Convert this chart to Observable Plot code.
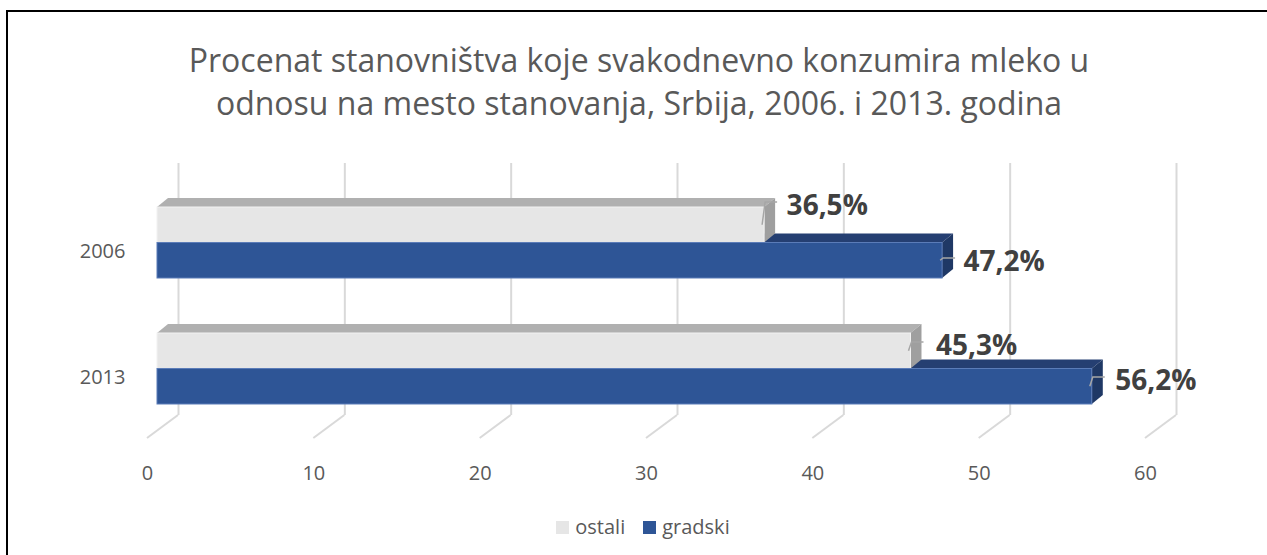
<!DOCTYPE html>
<html><head><meta charset="utf-8">
<script src="https://cdn.jsdelivr.net/npm/d3@7"></script>
<script src="https://cdn.jsdelivr.net/npm/@observablehq/plot@0.6"></script>
<style>
html,body{margin:0;padding:0;background:#fff;overflow:hidden;}
#wrap{position:relative;width:1267px;height:555px;font-family:"Open Sans",sans-serif;}
#wrap svg{position:absolute;left:0;top:0;}
#border{position:absolute;left:6px;top:10px;width:1400px;height:700px;border:2.5px solid #000;box-sizing:border-box;pointer-events:none;}
#title{position:absolute;left:0;width:1278px;top:38px;text-align:center;color:#595959;font-size:32px;line-height:43px;white-space:pre;}
#legend{position:absolute;left:0;width:1286px;top:514px;display:flex;justify-content:center;gap:18px;color:#595959;font-size:20px;line-height:26px;}
#legend .item{display:flex;align-items:center;gap:6px;}
#legend .sw{width:13px;height:13px;display:inline-block;}
</style>
</head><body>
<div id="wrap"><div id="border"></div><div id="title"></div><div id="legend"></div></div>
<script>
const titleLines = ["Procenat stanovništva koje svakodnevno konzumira mleko u", "odnosu na mesto stanovanja, Srbija, 2006. i 2013. godina"];
const years = ["2006", "2013"];
const series = ["ostali", "gradski"];
const ostali = [36.5, 45.3];
const gradski = [47.2, 56.2];
const xTicks = [0, 10, 20, 30, 40, 50, 60];

const colors = {ostali: "#e6e6e6", gradski: "#2e5596"};
const topColors = {ostali: "#b0b0b0", gradski: "#253f72"};
const sideColors = {ostali: "#9f9f9f", gradski: "#1f3865"};
// label offsets (style) per year|series
const labelOff = {
  "2006|ostali": [22, -36.5], "2006|gradski": [21, 19.5],
  "2013|ostali": [25, -22.5], "2013|gradski": [23, 12.5]
};

const rows = years.flatMap((y, i) => [
  {year: y, series: "ostali", value: ostali[i]},
  {year: y, series: "gradski", value: gradski[i]}
]);
const fmt = v => v.toFixed(1).replace(".", ",") + "%";

document.getElementById("title").textContent = titleLines.join("\n");
const leg = document.getElementById("legend");
series.forEach(s => {
  const it = document.createElement("div"); it.className = "item";
  const sw = document.createElement("span"); sw.className = "sw"; sw.style.background = colors[s];
  const t = document.createElement("span"); t.textContent = s;
  it.appendChild(sw); it.appendChild(t); leg.appendChild(it);
});

const H = 555, MB = 140, MT = 163;
const half = 35.5;
const labelMarks = rows.map(r => {
  const [dx, dy] = labelOff[r.year + "|" + r.series];
  return Plot.text([r], {x: "value", y: "year", text: d => fmt(d.value), dx, dy,
    textAnchor: "start", lineAnchor: "middle", fontWeight: "bold", fontSize: 28, fill: "#404040"});
});

const plot = Plot.plot({
  width: 1267, height: H,
  marginLeft: 157, marginRight: 112, marginTop: MT, marginBottom: MB,
  x: {domain: [0, 60], axis: null},
  y: {domain: years, axis: null, paddingInner: 0.4365, paddingOuter: 0.218, align: 0.8},
  color: {domain: series, range: series.map(s => colors[s])},
  style: {fontFamily: "Open Sans", background: "transparent", overflow: "visible"},
  marks: [
    Plot.ruleX(xTicks, {x: d => d, dx: 21, stroke: "#d9d9d9", strokeWidth: 2}),
    Plot.text(xTicks, {x: d => d, text: d => String(d), frameAnchor: "bottom", dy: 58, dx: -10,
      fill: "#595959", fontSize: 20, lineAnchor: "middle"}),
    Plot.text(years, {y: d => d, text: d => d, frameAnchor: "left", textAnchor: "end", dx: -32, dy: 9,
      fill: "#595959", fontSize: 20, lineAnchor: "middle"}),
    Plot.barX(rows.filter(d => d.series === "ostali"), {x1: 0, x2: "value", y: "year", fill: "series",
      insetBottom: half, stroke: "#f2f2f2", strokeWidth: 1}),
    Plot.barX(rows.filter(d => d.series === "gradski"), {x1: 0, x2: "value", y: "year", fill: "series",
      insetTop: half, stroke: "#5b7cb8", strokeWidth: 1}),
    ...labelMarks
  ]
});
document.getElementById("wrap").appendChild(plot);

// 3D faces, drawn through the plot's own scales
const sx = plot.scale("x"), sy = plot.scale("y");
const X = v => sx.apply(v), Y = y => sy.apply(y);
const bw = sy.bandwidth;
const DX = 11, DY = 9;
const svg = d3.select(plot);
const g3 = svg.insert("g", "g[aria-label='bar']");
const geom = r => {
  const x0 = X(0), x1 = X(r.value);
  const yTop = Y(r.year) + (r.series === "ostali" ? 0 : bw / 2);
  const yBot = yTop + bw / 2;
  return {x0, x1, yTop, yBot};
};
const poly = pts => pts.map(p => p.join(",")).join(" ");
const order = [
  ...rows.filter(r => r.series === "gradski").map(r => [r, "top"]),
  ...rows.filter(r => r.series === "ostali").map(r => [r, "top"]),
  ...rows.filter(r => r.series === "ostali").map(r => [r, "side"]),
  ...rows.filter(r => r.series === "gradski").map(r => [r, "side"])
];
order.forEach(([r, face]) => {
  const {x0, x1, yTop, yBot} = geom(r);
  if (face === "top") {
    g3.append("polygon").attr("points", poly([[x0, yTop], [x1, yTop], [x1 + DX, yTop - DY], [x0 + DX, yTop - DY]]))
      .attr("fill", topColors[r.series]);
  } else {
    g3.append("polygon").attr("points", poly([[x1, yTop], [x1 + DX, yTop - DY], [x1 + DX, yBot - DY], [x1, yBot]]))
      .attr("fill", sideColors[r.series]);
  }
});
// diagonal floor ticks
const bottom = H - MB;
const gd = svg.insert("g", "g[aria-label='bar']");
xTicks.forEach(t => {
  gd.append("line").attr("x1", X(t) + 21).attr("y1", bottom).attr("x2", X(t) - 10).attr("y2", bottom + 23)
    .attr("stroke", "#d9d9d9").attr("stroke-width", 2);
});
// leader lines
const gl = svg.append("g");
rows.forEach(r => {
  const {x1, yTop, yBot} = geom(r);
  const [dx, dy] = labelOff[r.year + "|" + r.series];
  const ly = Y(r.year) + bw / 2 + dy;
  const yc = (yTop + yBot) / 2;
  gl.append("path").attr("d", `M${x1 - 2},${yc}L${x1 + 1},${ly - 4}L${x1 + 13},${ly - 4}`)
    .attr("fill", "none").attr("stroke", "#a6a6a6").attr("stroke-width", 1.5);
});
</script>
</body></html>
